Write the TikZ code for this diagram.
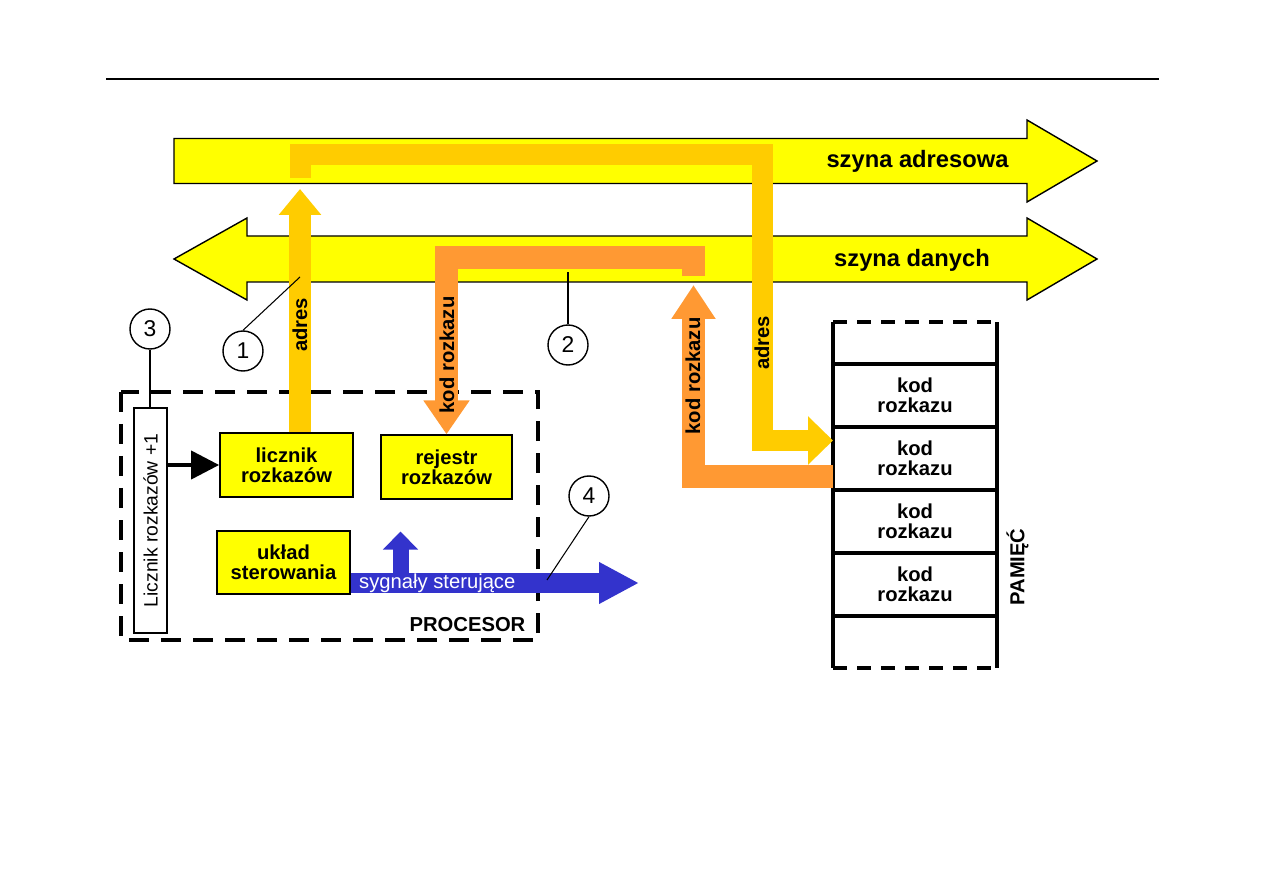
\documentclass[tikz,border=0pt]{standalone}
\usepackage{fontspec}
\setmainfont{Liberation Sans}
\usepackage{tikz}
\usetikzlibrary{arrows.meta,positioning}
\definecolor{busyellow}{HTML}{FFFF00}
\definecolor{addrgold}{HTML}{FFCC00}
\definecolor{dataorange}{HTML}{FF9933}
\definecolor{sigblue}{HTML}{3333CC}

\begin{document}
\begin{tikzpicture}[
  box/.style={draw, fill=busyellow, line width=1pt, minimum width=2.66cm, minimum height=1.27cm, inner sep=0pt, align=center, font=\fontsize{11.5}{11.5}\selectfont\bfseries},
  memcell/.style={draw, line width=2.1pt, minimum width=3.28cm, minimum height=1.26cm, inner sep=0pt, outer sep=0pt, align=center, font=\fontsize{11.5}{11.5}\selectfont\bfseries},
  num/.style={draw, circle, line width=0.8pt, minimum size=0.8cm, inner sep=0pt, font=\fontsize{13}{13}\selectfont},
  bus/.style={draw=black, fill=busyellow, line width=0.8pt},
  buslabel/.style={font=\fontsize{13.5}{13.5}\selectfont\bfseries},
  arrowlabel/.style={rotate=90, inner sep=0pt, font=\fontsize{11.5}{11.5}\selectfont\bfseries},
  goldpath/.style={addrgold, line width=0.42cm},
  datapath/.style={dataorange, line width=0.46cm},
  pointer/.style={line width=0.6pt}
]
  \useasboundingbox (0,0) rectangle (25.26,17.86);
  \draw[line width=1.1pt] (2.12,16.28) -- (23.18,16.28);

  % buses
  \draw[bus] (3.48,15.09) -- (20.54,15.09) -- (20.54,15.46) -- (21.94,14.64) -- (20.54,13.82) -- (20.54,14.19) -- (3.48,14.19) -- cycle;
  \node[buslabel] (adrbus) at (18.35,14.64) {szyna adresowa};
  \draw[bus] (3.48,12.68) -- (4.94,13.5) -- (4.94,13.14) -- (20.54,13.14) -- (20.54,13.5) -- (21.94,12.68) -- (20.54,11.86) -- (20.54,12.22) -- (4.94,12.22) -- (4.94,11.86) -- cycle;
  \node[buslabel] (databus) at (18.24,12.66) {szyna danych};

  % processor
  \draw[line width=2.3pt, dash pattern=on 0.4cm off 0.24cm] (2.42,10.02) rectangle (10.76,5.06);
  \node[font=\fontsize{11.5}{11.5}\selectfont\bfseries] (proc) at (9.35,5.36) {PROCESOR};
  \node[box] (licznik) at (5.73,8.56) {licznik\\rozkazów};
  \node[box, minimum width=2.61cm] (rejestr) at (8.93,8.52) {rejestr\\rozkazów};
  \node[box] (uklad) at (5.67,6.61) {układ\\sterowania};
  % rotated: .east is the top, .south the right side
  \node[draw, fill=white, line width=0.8pt, rotate=90, minimum width=4.5cm, minimum height=0.66cm, inner sep=0pt, font=\fontsize{11}{11}\selectfont] (plus1) at (3.01,7.45) {Licznik rozkazów +1};
  \draw[line width=2.3pt, -{Triangle[width=0.56cm,length=0.56cm]}] (plus1.south |- licznik.west) -- (licznik.west);

  % memory
  \node[memcell] (mem1) at (18.3,9.95) {kod\\rozkazu};
  \node[memcell, below=0pt of mem1] (mem2) {kod\\rozkazu};
  \node[memcell, below=0pt of mem2] (mem3) {kod\\rozkazu};
  \node[memcell, below=0pt of mem3] (mem4) {kod\\rozkazu};
  \draw[line width=2.1pt] (mem1.north west) -- ++(0,0.84) (mem1.north east) -- ++(0,0.84);
  \draw[line width=2.1pt] (mem4.south west) -- ++(0,-1.04) (mem4.south east) -- ++(0,-1.04);
  \draw[line width=2.1pt, dash pattern=on 0.28cm off 0.2cm] ([yshift=0.84cm]mem1.north west) -- ([yshift=0.84cm]mem1.north east);
  \draw[line width=2.1pt, dash pattern=on 0.28cm off 0.2cm] ([yshift=-1.04cm]mem4.south west) -- ([yshift=-1.04cm]mem4.south east);
  \node[rotate=90, font=\fontsize{11.5}{11.5}\selectfont\bfseries] (pamiec) at (20.35,6.52) {PAMIĘĆ};

  % address path
  \coordinate (adrtip) at (6.0,14.08);
  \draw[addrgold, line width=0.44cm, -{Triangle[width=0.82cm,length=0.52cm]}] (licznik.north -| adrtip) -- (adrtip);
  \node[arrowlabel] at (6.0,11.36) {adres};
  \draw[goldpath, -{Triangle[width=0.94cm,length=0.5cm]}] (6.0,14.3) |- (15.25,14.77) |- ([yshift=0.36cm]mem2.west);
  \node[arrowlabel] at (15.24,11.0) {adres};

  % data path
  \coordinate (datarow) at (8.93,12.7);
  \draw[datapath, -{Triangle[width=0.88cm,length=0.68cm]}] (13.87,12.34) |- (datarow) -- (rejestr.north);
  \node[arrowlabel] at (8.94,10.76) {kod rozkazu};
  \coordinate (datatip) at (13.87,12.16);
  \draw[datapath, -{Triangle[width=0.84cm,length=0.68cm]}] ([yshift=-0.37cm]mem2.west) -| (datatip);
  \node[arrowlabel] at (13.86,10.34) {kod rozkazu};

  % control signals
  \coordinate (sigend) at (12.78,6.2);
  \draw[sigblue, line width=0.4cm, -{Triangle[width=0.78cm,length=0.8cm]}] (uklad.east |- sigend) -- (sigend);
  \coordinate (sigup) at (8.01,7.23);
  \draw[sigblue, line width=0.32cm, -{Triangle[width=0.68cm,length=0.36cm]}] (8.01,6.4) -- (sigup);
  \node[anchor=west, text=white, inner sep=0pt, font=\fontsize{11.5}{11.5}\selectfont] (sig) at ([xshift=0.16cm]uklad.east |- sigend) {sygnały sterujące};

  % numbered markers
  \node[num] (n3) at (3.0,11.28) {3};
  \draw[pointer] (n3.south) -- (n3.south |- plus1.east);
  \node[num] (n1) at (4.86,10.84) {1};
  \coordinate (p1) at (6.0,12.32);
  \draw[pointer] (n1.north) -- (p1);
  \node[num] (n2) at (11.36,10.96) {2};
  \coordinate (p2) at (11.36,12.42);
  \draw[pointer] (n2.north) -- (p2);
  \node[num] (n4) at (11.78,7.94) {4};
  \coordinate (p4) at (10.94,6.26);
  \draw[pointer] (n4.south) -- (p4);
\end{tikzpicture}
\end{document}
